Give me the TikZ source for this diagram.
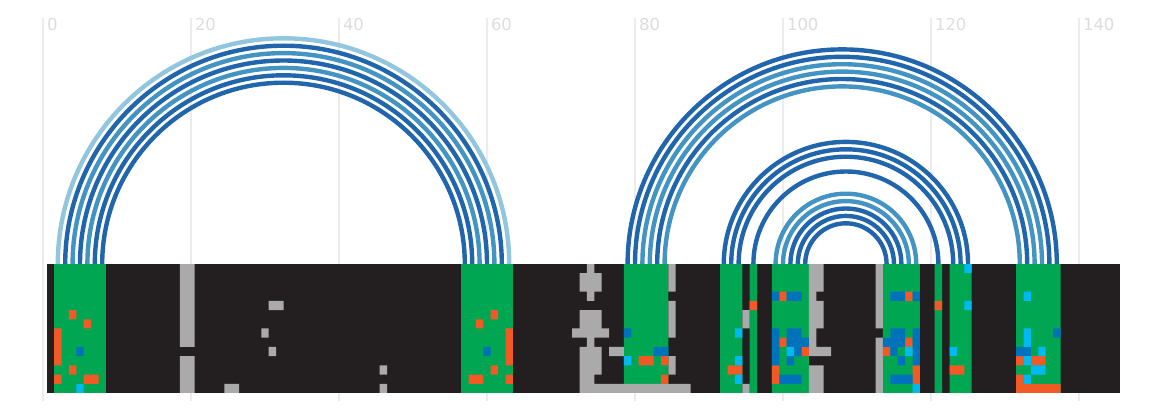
\documentclass[tikz,border=0pt]{standalone}
\usepackage{fontspec}
\setmainfont{DejaVu Sans}
\usepackage{tikz}
\definecolor{cellblack}{RGB}{35, 31, 32}
\definecolor{cellgreen}{RGB}{0, 166, 81}
\definecolor{cellgray}{RGB}{170, 170, 170}
\definecolor{cellorange}{RGB}{241, 90, 36}
\definecolor{cellblue}{RGB}{0, 114, 188}
\definecolor{cellcyan}{RGB}{0, 185, 241}
\definecolor{arcdark}{RGB}{33, 102, 172}
\definecolor{arcmid}{RGB}{67, 147, 195}
\definecolor{arclight}{RGB}{146, 197, 222}
\definecolor{gridgray}{RGB}{236, 236, 236}
\definecolor{labelgray}{RGB}{221, 221, 221}

\begin{document}
\begin{tikzpicture}[x=7.4pt, y=7.4pt,
  axislabel/.style={anchor=base west, inner sep=0pt, xshift=3.8pt, text=labelgray, font=\fontsize{16.5}{16.5}\selectfont},
  link/.style={line width=4.4pt}]
  \useasboundingbox (-5.811, -20.541) rectangle (150.946, 35.676);

  % axis
  \draw[color=gridgray, line width=1.5pt] (0, -18.51) -- (0, 33.24);
  \draw[color=gridgray, line width=1.5pt] (20, -18.51) -- (20, 33.24);
  \draw[color=gridgray, line width=1.5pt] (40, -18.51) -- (40, 33.24);
  \draw[color=gridgray, line width=1.5pt] (60, -18.51) -- (60, 33.24);
  \draw[color=gridgray, line width=1.5pt] (80, -18.51) -- (80, 33.24);
  \draw[color=gridgray, line width=1.5pt] (100, -18.51) -- (100, 33.24);
  \draw[color=gridgray, line width=1.5pt] (120, -18.51) -- (120, 33.24);
  \draw[color=gridgray, line width=1.5pt] (140, -18.51) -- (140, 33.24);
  \node[axislabel] (t0) at (0, 31.49) {0};
  \node[axislabel] (t20) at (20, 31.49) {20};
  \node[axislabel] (t40) at (40, 31.49) {40};
  \node[axislabel] (t60) at (60, 31.49) {60};
  \node[axislabel] (t80) at (80, 31.49) {80};
  \node[axislabel] (t100) at (100, 31.49) {100};
  \node[axislabel] (t120) at (120, 31.49) {120};
  \node[axislabel] (t140) at (140, 31.49) {140};

  % track
  \begin{scope}[yscale=1.24505]
    \fill[color=cellblack] (0.5, 0) rectangle +(145, -14);

    \fill[color=cellgreen] (1.5, 0) rectangle +(7, -14) (56.5, 0) rectangle +(7, -14)
      (78.5, 0) rectangle +(6, -13) (91.5, 0) rectangle +(3, -14) (95.5, 0) rectangle +(1, -14)
      (98.5, 0) rectangle +(5, -14) (113.5, 0) rectangle +(5, -14) (120.5, 0) rectangle +(1, -14)
      (122.5, 0) rectangle +(3, -14) (131.5, 0) rectangle +(6, -14);

    \fill[color=cellgray] (18.5, 0) rectangle +(2, -9) (18.5, -10) rectangle +(2, -4)
      (24.5, -13) rectangle +(2, -1) (29.5, -7) rectangle +(1, -1) (30.5, -4) rectangle +(2, -1)
      (30.5, -9) rectangle +(1, -1) (45.5, -11) rectangle +(1, -1) (45.5, -13) rectangle +(1, -1);
    \fill[color=cellgray] (73.5, 0) rectangle +(1, -1) (72.5, -1) rectangle +(3, -2)
      (73.5, -3) rectangle +(1, -1) (72.5, -5) rectangle +(3, -2) (71.5, -7) rectangle +(5, -1)
      (73.5, -8) rectangle +(1, -1) (72.5, -9) rectangle +(3, -3) (76.5, -9) rectangle +(2, -1)
      (72.5, -12) rectangle +(2, -1) (72.5, -13) rectangle +(15, -1)
      (84.5, 0) rectangle +(1, -3) (84.5, -4) rectangle +(1, -4) (84.5, -10) rectangle +(1, -2);
    \fill[color=cellgray] (94.5, -5) rectangle +(1, -2) (94.5, -13) rectangle +(1, -1)
      (103.5, 0) rectangle +(1, -10) (103.5, -11) rectangle +(1, -3)
      (104.5, 0) rectangle +(1, -3) (104.5, -4) rectangle +(1, -3) (104.5, -9) rectangle +(2, -1)
      (104.5, -11) rectangle +(1, -3)
      (112.5, 0) rectangle +(1, -7) (112.5, -8) rectangle +(1, -6);

    \fill[color=cellorange] (3.5, -5) rectangle +(1, -1) (5.5, -6) rectangle +(1, -1)
      (1.5, -7) rectangle +(1, -4) (3.5, -11) rectangle +(1, -1) (1.5, -12) rectangle +(1, -1)
      (5.5, -12) rectangle +(2, -1);
    \fill[color=cellorange] (60.5, -5) rectangle +(1, -1) (58.5, -6) rectangle +(1, -1)
      (62.5, -7) rectangle +(1, -4) (60.5, -11) rectangle +(1, -1) (57.5, -12) rectangle +(2, -1)
      (62.5, -12) rectangle +(1, -1);
    \fill[color=cellorange] (80.5, -10) rectangle +(2, -1) (83.5, -10) rectangle +(1, -1)
      (83.5, -12) rectangle +(1, -1) (92.5, -11) rectangle +(2, -1) (95.5, -4) rectangle +(1, -1)
      (99.5, -3) rectangle +(1, -1) (99.5, -8) rectangle +(1, -1) (102.5, -9) rectangle +(1, -1)
      (98.5, -11) rectangle +(1, -2);
    \fill[color=cellorange] (116.5, -3) rectangle +(1, -1) (116.5, -8) rectangle +(1, -1)
      (113.5, -9) rectangle +(1, -1) (117.5, -11) rectangle +(1, -2) (120.5, -4) rectangle +(1, -1)
      (122.5, -11) rectangle +(2, -1) (131.5, -10) rectangle +(1, -1) (133.5, -10) rectangle +(2, -1)
      (131.5, -12) rectangle +(1, -1) (131.5, -13) rectangle +(6, -1);

    \fill[color=cellblue] (4.5, -9) rectangle +(1, -1) (59.5, -9) rectangle +(1, -1)
      (78.5, -7) rectangle +(1, -1) (82.5, -9) rectangle +(2, -1);
    \fill[color=cellblue] (98.5, -3) rectangle +(1, -1) (100.5, -3) rectangle +(2, -1)
      (98.5, -7) rectangle +(1, -4) (100.5, -7) rectangle +(2, -1) (100.5, -8) rectangle +(3, -1)
      (101.5, -9) rectangle +(1, -1) (100.5, -10) rectangle +(1, -1) (99.5, -12) rectangle +(3, -1);
    \fill[color=cellblue] (114.5, -3) rectangle +(2, -1) (117.5, -3) rectangle +(1, -1)
      (114.5, -7) rectangle +(2, -1) (117.5, -7) rectangle +(1, -4) (113.5, -8) rectangle +(3, -1)
      (114.5, -9) rectangle +(1, -1) (115.5, -10) rectangle +(1, -1) (114.5, -12) rectangle +(3, -1)
      (136.5, -7) rectangle +(1, -1) (131.5, -9) rectangle +(2, -1);

    \fill[color=cellcyan] (4.5, -13) rectangle +(1, -1) (78.5, -10) rectangle +(1, -1)
      (93.5, -7) rectangle +(1, -1) (93.5, -10) rectangle +(1, -1) (93.5, -12) rectangle +(1, -1)
      (100.5, -9) rectangle +(1, -1) (116.5, -9) rectangle +(1, -1) (117.5, -13) rectangle +(1, -1)
      (124.5, 0) rectangle +(1, -1) (124.5, -4) rectangle +(1, -1) (122.5, -9) rectangle +(1, -1);
    \fill[color=cellcyan] (132.5, -3) rectangle +(1, -1) (132.5, -7) rectangle +(1, -2)
      (134.5, -9) rectangle +(1, -1) (132.5, -10) rectangle +(1, -1) (133.5, -11) rectangle +(2, -1)
      (132.5, -12) rectangle +(1, -1);
  \end{scope}

  % links
  \draw[link, color=arclight] (2, 0) arc (180:0:30.5);
  \draw[link, color=arcdark] (3, 0) arc (180:0:29.5);
  \draw[link, color=arcmid] (4, 0) arc (180:0:28.5);
  \draw[link, color=arcdark] (5, 0) arc (180:0:27.5);
  \draw[link, color=arcmid] (6, 0) arc (180:0:26.5);
  \draw[link, color=arcdark] (7, 0) arc (180:0:25.5);
  \draw[link, color=arcdark] (8, 0) arc (180:0:24.5);

  \draw[link, color=arcdark] (79, 0) arc (180:0:29);
  \draw[link, color=arcdark] (80, 0) arc (180:0:28);
  \draw[link, color=arcmid] (81, 0) arc (180:0:27);
  \draw[link, color=arcmid] (82, 0) arc (180:0:26);
  \draw[link, color=arcdark] (83, 0) arc (180:0:25);
  \draw[link, color=arcmid] (84, 0) arc (180:0:24);

  \draw[link, color=arcdark] (92, 0) arc (180:0:16.5);
  \draw[link, color=arcdark] (93, 0) arc (180:0:15.5);
  \draw[link, color=arcdark] (94, 0) arc (180:0:14.5);
  \draw[link, color=arcdark] (96, 0) arc (180:0:12.5);

  \draw[link, color=arcmid] (99, 0) arc (180:0:9.5);
  \draw[link, color=arcmid] (100, 0) arc (180:0:8.5);
  \draw[link, color=arcdark] (101, 0) arc (180:0:7.5);
  \draw[link, color=arcdark] (102, 0) arc (180:0:6.5);
  \draw[link, color=arcdark] (103, 0) arc (180:0:5.5);

\end{tikzpicture}
\end{document}
